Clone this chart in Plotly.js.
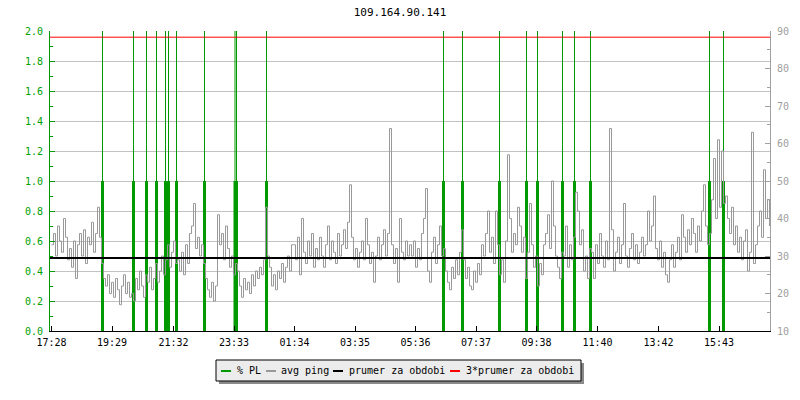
<!DOCTYPE html>
<html><head><meta charset="utf-8">
<script src="https://cdn.plot.ly/plotly-3.0.1.min.js"></script>
<style>html,body{margin:0;padding:0;background:#fff;}#chart{width:800px;height:400px;}</style>
</head><body><div id="chart"></div>
<script>
// ---------- DATA ----------
const chartTitle = "109.164.90.141";
const tickLabels = ["17:28","19:29","21:32","23:33","01:34","03:35","05:36","07:37","09:38","11:40","13:42","15:43"];
const tickMinutes = [0,121,244,365,486,607,728,849,970,1092,1214,1335]; // minutes after 17:28
const sampleStepMin = 4;
// average ping (ms), one sample every 4 minutes starting 17:28
const pingMs = [
 33,36,30,38,34,31,40,35,29,32,27,34,24,33,36,30,37,28,35,33,39,31,36,43,35,
 28,24,22,25,20,23,19,24,21,17,22,25,20,23,19,
 20,18,24,21,26,22,19,25,23,27,21,24,28,23,26,30,25,29,33,27,31,34,28,
 29,26,31,25,33,28,36,38,44,32,35,30,33,28,
 24,21,19,23,18,22,41,33,36,29,38,32,27,30,25,28,
 26,22,19,24,21,23,20,25,22,26,24,27,25,29,43,
 30,27,22,25,21,26,24,28,23,27,30,26,33,
 33,29,35,25,40,31,28,34,30,36,27,32,29,35,30,27,33,38,29,34,
 31,28,36,30,33,37,32,39,49,35,29,32,27,31,34,29,40,33,28,31,
 23,30,35,29,33,37,30,36,64,33,28,32,23,40,31,29,34,30,33,
 30,34,27,32,29,36,40,48,26,23,31,35,28,33,38,30,
 32,26,23,21,27,24,29,25,31,37,
 29,24,27,22,21,26,23,28,25,33,30,36,42,31,35,28,42,33,
 25,29,23,34,57,40,31,36,33,43,38,31,35,
 24,31,44,33,27,30,
 22,28,25,33,36,41,32,50,38,30,27,24,31,
 30,38,27,33,29,35,
 47,42,33,37,26,30,24,32,
 31,24,33,28,36,30,27,34,29,64,37,26,31,35,28,33,44,30,27,32,
 36,29,33,28,31,35,30,33,42,34,38,46,32,29,34,27,31,25,23,29,
 33,27,31,35,29,41,35,31,37,33,40,36,31,38,34,42,49,38,33,
 36,45,56,40,61,43,58,
 44,46,40,36,43,33,38,31,35,29,34,37,26,31,63,28,33,38,42,35,53,40,45,38
];
// packet loss events (minutes after 17:28) and % PL value
const plMinutes = [102,164,190,210,228,234,250,306,367,370,430,784,822,896,950,972,1022,1046,1078,1316,1344];
const plValues  = [1,1,1,1,1,1,1,1,1,1,1,1,1,1,1,1,1,1,1,1,1];
const plRuleTop = 2.0;
const meanPing = 29.45;          // prumer za obdobi (ms)
const meanFactor = 3;            // 3*prumer za obdobi
const xRange = [-3, 1437];
const legendLabels = ["% PL","avg ping","prumer za obdobi","3*prumer za obdobi"];
const legendColors = ["#009a00","#999999","#000000","#ff0000"];

// ---------- BUILD ----------
const pingTimes = pingMs.map((_, i) => i * sampleStepMin);
const plX = [], plY = [], ruleX = [], ruleY = [];
plMinutes.forEach((t, i) => {
  plX.push(t, t, null); plY.push(0, plValues[i], null);
  ruleX.push(t, t, null); ruleY.push(0, plRuleTop, null);
});

const FONT = 'DejaVu Sans Mono';
const GREEN = '#009a00';
const traces = [
  {x: pingTimes, y: pingMs, yaxis: 'y2', type: 'scatter', mode: 'lines', name: 'avg ping',
   line: {color: '#999999', width: 1, shape: 'hv'}, hoverinfo: 'skip'},
  {x: ruleX, y: ruleY, yaxis: 'y', type: 'scatter', mode: 'lines', name: '% PL',
   line: {color: GREEN, width: 1}, connectgaps: false},
  {x: plX, y: plY, yaxis: 'y', type: 'scatter', mode: 'lines', name: '% PL',
   line: {color: GREEN, width: 3}, connectgaps: false},
  {x: xRange, y: [meanPing, meanPing], yaxis: 'y2', type: 'scatter', mode: 'lines',
   name: 'prumer za obdobi', line: {color: '#000000', width: 2}},
  {x: xRange, y: [meanPing * meanFactor, meanPing * meanFactor], yaxis: 'y2', type: 'scatter', mode: 'lines',
   name: '3*prumer za obdobi', line: {color: '#ff0000', width: 1}}
];

// pixel helpers (layout positioning only)
const PL = 50, PW = 720, PT = 31, PH = 300;
const px = x => (x - PL) / PW;
const py = y => (PT + PH - y) / PH;

const shapes = [
  {type: 'rect', xref: 'paper', yref: 'paper', x0: px(219), x1: px(584), y0: py(384), y1: py(363),
   fillcolor: '#8a8a8a', line: {width: 0}, layer: 'above'},
  {type: 'rect', xref: 'paper', yref: 'paper', x0: px(216), x1: px(581), y0: py(381), y1: py(360),
   fillcolor: '#ececec', line: {color: '#000', width: 1}, layer: 'above'}
];
const swX = [[221,231],[266,276],[333,343],[450,460]];
const txX = [235, 279, 347, 464];
const annotations = [];
legendLabels.forEach((lab, i) => {
  shapes.push({type: 'line', xref: 'paper', yref: 'paper', x0: px(swX[i][0]), x1: px(swX[i][1]),
    y0: py(371), y1: py(371), line: {color: legendColors[i], width: 2}, layer: 'above'});
  annotations.push({xref: 'paper', yref: 'paper', x: px(txX[i]), y: py(370.5), xanchor: 'left', yanchor: 'middle',
    text: lab, showarrow: false, font: {family: FONT, size: 10, color: '#000'}});
});

const layout = {
  width: 800, height: 400,
  margin: {l: 50, r: 30, t: 31, b: 69, pad: 0},
  paper_bgcolor: '#ffffff', plot_bgcolor: '#ffffff',
  showlegend: false,
  font: {family: FONT, size: 10, color: '#000'},
  title: {text: chartTitle, x: 0.5, xref: 'container', xanchor: 'center', y: 1 - 12/400, yref: 'container', yanchor: 'middle',
          font: {family: FONT, size: 11, color: '#000'}},
  xaxis: {range: xRange, tickmode: 'array', tickvals: tickMinutes, ticktext: tickLabels,
          ticks: 'inside', ticklen: 5, tickcolor: '#000', showline: true, linecolor: '#000', linewidth: 1,
          showgrid: false, zeroline: false, tickfont: {family: FONT, size: 10, color: '#000'}, ticklabelstandoff: 2},
  yaxis: {range: [0, 2], dtick: 0.2, tickformat: '.1f', ticks: 'inside', ticklen: 5, tickcolor: GREEN,
          showline: true, linecolor: GREEN, linewidth: 1, showgrid: true, gridcolor: '#c2c2c2', gridwidth: 1,
          zeroline: false, tickfont: {family: FONT, size: 10, color: '#00a000'}, ticklabelstandoff: 4,
          minor: {dtick: 0.1, ticks: 'inside', ticklen: 3, tickcolor: GREEN, showgrid: false}},
  yaxis2: {overlaying: 'y', side: 'right', range: [10, 90], dtick: 10, ticks: 'inside', ticklen: 5,
           tickcolor: '#a0a0a0', showline: true, linecolor: '#a0a0a0', linewidth: 1, showgrid: false, zeroline: false,
           tickfont: {family: FONT, size: 10, color: '#a0a0a0'}, ticklabelstandoff: 4,
           minor: {dtick: 5, ticks: 'inside', ticklen: 3, tickcolor: '#a0a0a0', showgrid: false}},
  shapes: shapes,
  annotations: annotations
};
Plotly.newPlot('chart', traces, layout, {staticPlot: true, displayModeBar: false});
</script>
</body></html>
